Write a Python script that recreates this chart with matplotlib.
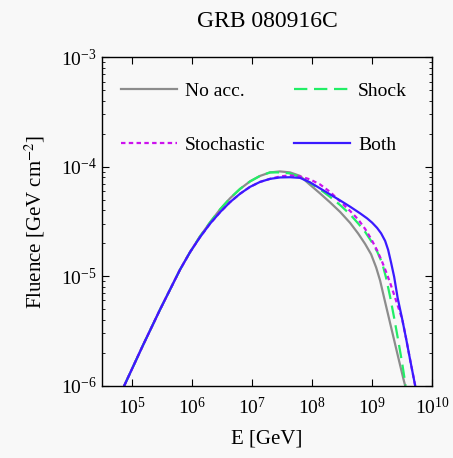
import matplotlib
matplotlib.use("Agg")
import matplotlib.pyplot as plt
import numpy as np

plt.rcParams['font.family'] = ['Liberation Serif', 'DejaVu Serif']
plt.rcParams['mathtext.fontset'] = 'stix'

# log10(E/GeV) y log10(fluencia)
logE_noacc = [4.872, 5.183, 5.467, 5.800, 5.967, 6.133, 6.300, 6.467, 6.633, 6.800, 6.967, 7.133, 7.300,
              7.467, 7.633, 7.800, 7.967, 8.133, 8.300, 8.467, 8.633, 8.767, 8.883, 8.983, 9.067, 9.133,
              9.200, 9.267, 9.350, 9.433, 9.525, 9.550]
logF_noacc = [-6.000, -5.632, -5.306, -4.941, -4.781, -4.637, -4.509, -4.390, -4.289, -4.203, -4.134, -4.084, -4.052,
              -4.043, -4.052, -4.084, -4.166, -4.244, -4.326, -4.413, -4.513, -4.610, -4.705, -4.800, -4.920, -5.040,
              -5.198, -5.353, -5.545, -5.737, -5.947, -6.000]

logE_shock = [4.872, 5.183, 5.467, 5.800, 5.967, 6.133, 6.300, 6.467, 6.633, 6.800, 6.967, 7.133, 7.300,
              7.467, 7.633, 7.800, 7.967, 8.133, 8.300, 8.467, 8.633, 8.767, 8.883, 8.983, 9.083, 9.167,
              9.233, 9.300, 9.367, 9.433, 9.500, 9.558]
logF_shock = [-6.000, -5.632, -5.306, -4.941, -4.781, -4.637, -4.509, -4.390, -4.289, -4.203, -4.134, -4.084, -4.052,
              -4.052, -4.061, -4.093, -4.148, -4.207, -4.276, -4.350, -4.435, -4.518, -4.595, -4.678, -4.774, -4.879,
              -5.016, -5.189, -5.381, -5.582, -5.792, -6.000]

logE_stoch = [4.872, 5.183, 5.467, 5.800, 5.967, 6.133, 6.300, 6.467, 6.633, 6.800, 6.967, 7.133, 7.300,
              7.467, 7.633, 7.800, 7.967, 8.133, 8.300, 8.467, 8.633, 8.767, 8.883, 8.983, 9.083, 9.167,
              9.233, 9.300, 9.350, 9.417, 9.500, 9.567, 9.633, 9.717]
logF_stoch = [-6.000, -5.632, -5.306, -4.941, -4.781, -4.644, -4.521, -4.416, -4.324, -4.247, -4.184, -4.139, -4.111,
              -4.089, -4.079, -4.089, -4.116, -4.162, -4.230, -4.317, -4.404, -4.481, -4.568, -4.659, -4.764, -4.869,
              -4.961, -5.061, -5.143, -5.253, -5.390, -5.573, -5.764, -6.000]

logE_both = [4.872, 5.183, 5.467, 5.800, 5.967, 6.133, 6.300, 6.467, 6.633, 6.800, 6.967, 7.133, 7.300,
             7.467, 7.633, 7.800, 7.967, 8.133, 8.300, 8.467, 8.633, 8.800, 8.917, 9.000, 9.083, 9.150,
             9.217, 9.267, 9.317, 9.367, 9.425, 9.500, 9.567, 9.633, 9.717]
logF_both = [-6.000, -5.632, -5.306, -4.941, -4.781, -4.644, -4.521, -4.416, -4.324, -4.247, -4.184, -4.139, -4.111,
             -4.098, -4.096, -4.102, -4.143, -4.198, -4.253, -4.308, -4.365, -4.426, -4.472, -4.511, -4.559, -4.609,
             -4.678, -4.760, -4.879, -5.006, -5.198, -5.390, -5.573, -5.764, -6.000]

etiquetas = ["No acc.", "Shock", "Stochastic", "Both"]

fig = plt.figure(figsize=(4.53, 4.58), dpi=100, facecolor='#f8f8f8')
ax = fig.add_axes([0.225, 0.158, 0.729, 0.717])
ax.set_facecolor('#f8f8f8')

def pot(v):
    return 10.0 ** np.array(v)

l1, = ax.plot(pot(logE_noacc), pot(logF_noacc), color='#8c8c8c', lw=1.6)
l2, = ax.plot(pot(logE_shock), pot(logF_shock), color='#22ee66', lw=1.6, dashes=(6, 3))
l3, = ax.plot(pot(logE_stoch), pot(logF_stoch), color='#cc11ee', lw=1.6, dashes=(2, 1.5))
l4, = ax.plot(pot(logE_both), pot(logF_both), color='#3a1aff', lw=1.6)

ax.set_xscale('log')
ax.set_yscale('log')
ax.set_xlim(10 ** 4.5, 1e10)
ax.set_ylim(1e-6, 1e-3)
ax.set_xticks([1e5, 1e6, 1e7, 1e8, 1e9, 1e10])
ax.set_yticks([1e-6, 1e-5, 1e-4, 1e-3])

ax.tick_params(which='both', direction='in', top=True, right=True, labelsize=14)
ax.tick_params(which='major', length=5, width=0.8)
ax.tick_params(which='minor', length=2.5, width=0.6)
ax.tick_params(axis='x', pad=8)
for s in ax.spines.values():
    s.set_linewidth(1.0)

ax.set_title("GRB 080916C", fontsize=17, pad=22)
ax.set_xlabel("E [GeV]", fontsize=15, labelpad=8)
ax.set_ylabel(r"Fluence [GeV cm$^{-2}$]", fontsize=15, labelpad=10)

# orden: No acc., Shock / Stochastic, Both
ax.legend([l1, l3, l2, l4], [etiquetas[0], etiquetas[2], etiquetas[1], etiquetas[3]],
          ncol=2, frameon=False, loc='upper left', bbox_to_anchor=(0.005, 0.978),
          fontsize=14, handlelength=2.9, handletextpad=0.4, labelspacing=1.9,
          columnspacing=1.45)

fig.savefig("out.png", dpi=100, facecolor=fig.get_facecolor())
